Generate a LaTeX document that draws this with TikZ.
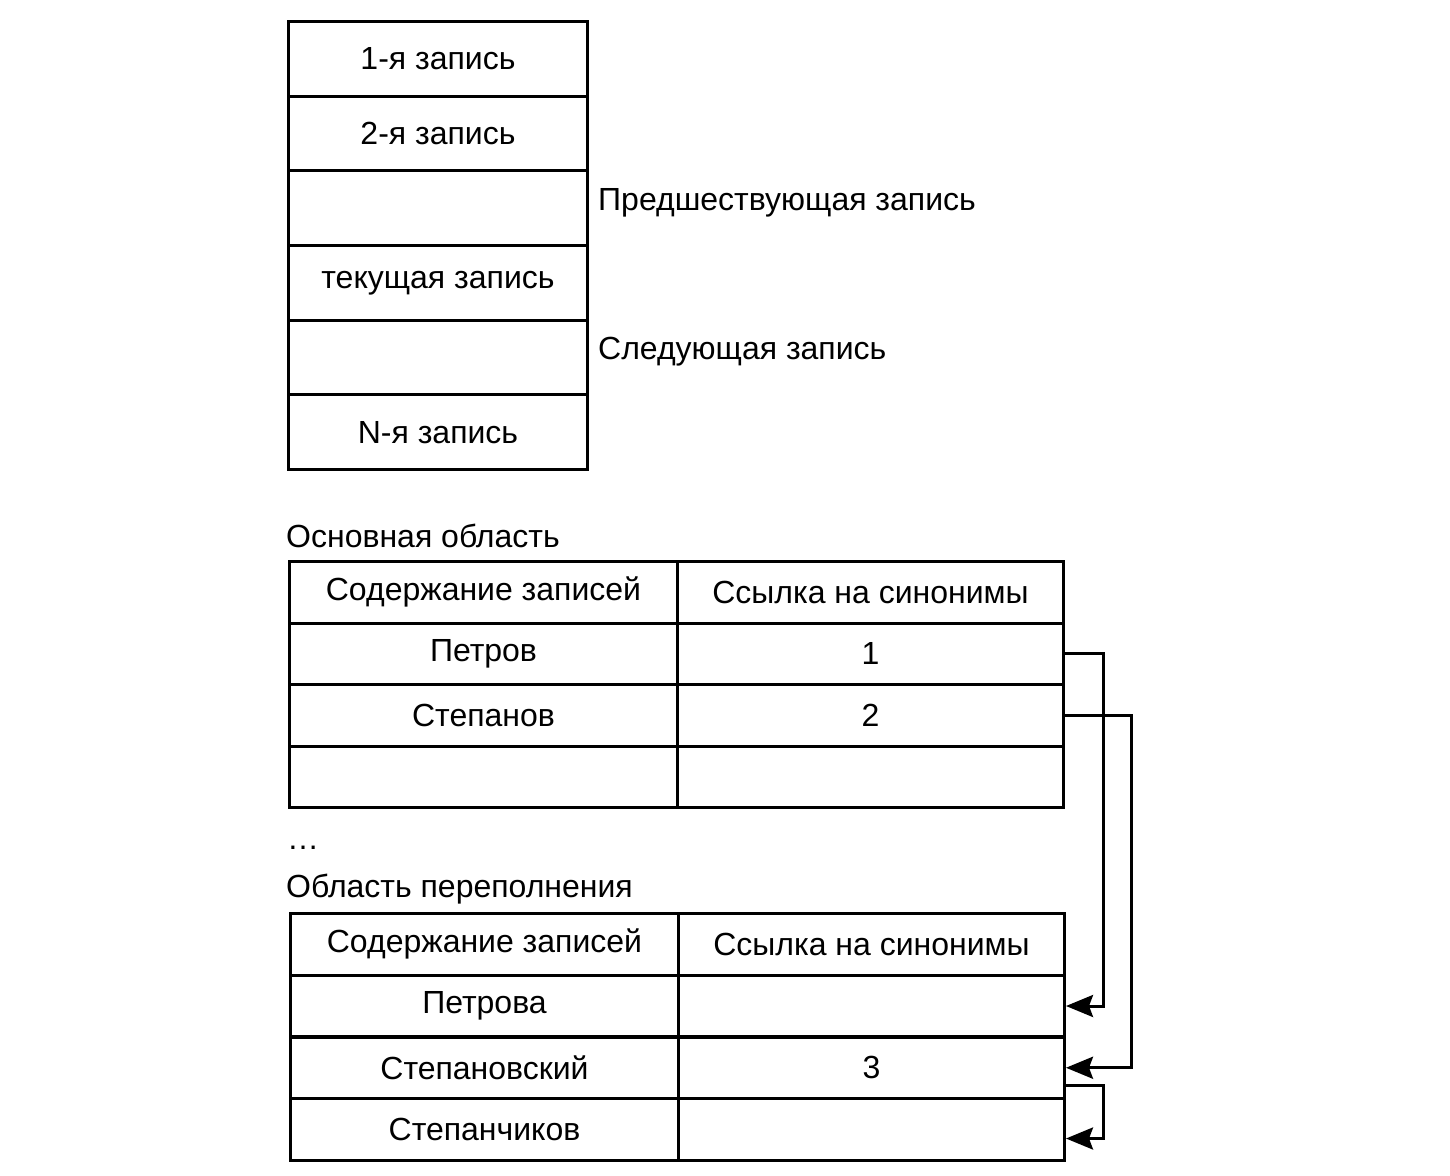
\documentclass[tikz,border=0pt]{standalone}
\usepackage{fontspec}
\setmainfont{Liberation Sans}
\usetikzlibrary{arrows.meta,calc}
\begin{document}
\begin{tikzpicture}[x=1pt,y=-1pt,
  every node/.style={font=\fontsize{32}{38}\selectfont},
  stackcell/.style={draw,line width=3pt,minimum width=299pt,minimum height=74.67pt,inner sep=0pt,anchor=north west},
  lcell/.style={draw,line width=3pt,minimum width=388pt,minimum height=61.5pt,inner sep=0pt,anchor=north west},
  rcell/.style={draw,line width=3pt,minimum width=386pt,minimum height=61.5pt,inner sep=0pt,anchor=north west},
  lab/.style={anchor=west,inner sep=0pt},
  link/.style={line width=3pt,-{Stealth[length=27pt,width=22pt,inset=4pt]}}
]
\useasboundingbox (0,0) rectangle (1450,1175);
% top stack
\node[stackcell] (s1) at (287,20) {1-я запись};
\node[stackcell] (s2) at (287,94.67) {2-я запись};
\node[stackcell] (s3) at (287,169.33) {};
\node[stackcell] (s4) at (287,244) {текущая запись};
\node[stackcell] (s5) at (287,318.67) {};
\node[stackcell] (s6) at (287,393.33) {N-я запись};
\node[lab] (prev) at (598,203) {Предшествующая запись};
\node[lab] (next) at (598,352) {Следующая запись};
% main area
\node[lab] (mainlab) at (286,536) {Основная область};
\node[lcell] (mh) at (288,560) {Содержание записей};
\node[rcell] (mhr) at (676,560) {Ссылка на синонимы};
\node[lcell] (m1) at (288,621.5) {Петров};
\node[rcell] (m1r) at (676,621.5) {1};
\node[lcell] (m2) at (288,683) {Степанов};
\node[rcell] (m2r) at (676,683) {2};
\node[lcell] (m3) at (288,744.5) {};
\node[rcell] (m3r) at (676,744.5) {};
\node[lab] (dots) at (287,848) {…};
% overflow area
\node[lab] (ovlab) at (286,889) {Область переполнения};
\node[lcell] (oh) at (289,912) {Содержание записей};
\node[rcell] (ohr) at (677,912) {Ссылка на синонимы};
\node[lcell] (o1) at (289,973.75) {Петрова};
\node[rcell] (o1r) at (677,973.75) {};
\node[lcell] (o2) at (289,1035.5) {Степановский};
\node[rcell] (o2r) at (677,1035.5) {3};
\node[lcell] (o3) at (289,1097.25) {Степанчиков};
\node[rcell] (o3r) at (677,1097.25) {};
% links
\draw[link] (m1r.east) -| (1103,0 |- o1r.east) -- (o1r.east);
\draw[link] (m2r.east) -| (1131,0 |- o2r.east) -- (o2r.east);
\coordinate (c3a) at ($(o2r.east)+(0,18)$);
\coordinate (c3b) at ($(o3r.east)+(0,9)$);
\draw[link] (c3a) -| (1103,0 |- c3b) -- (c3b);
\end{tikzpicture}
\end{document}
